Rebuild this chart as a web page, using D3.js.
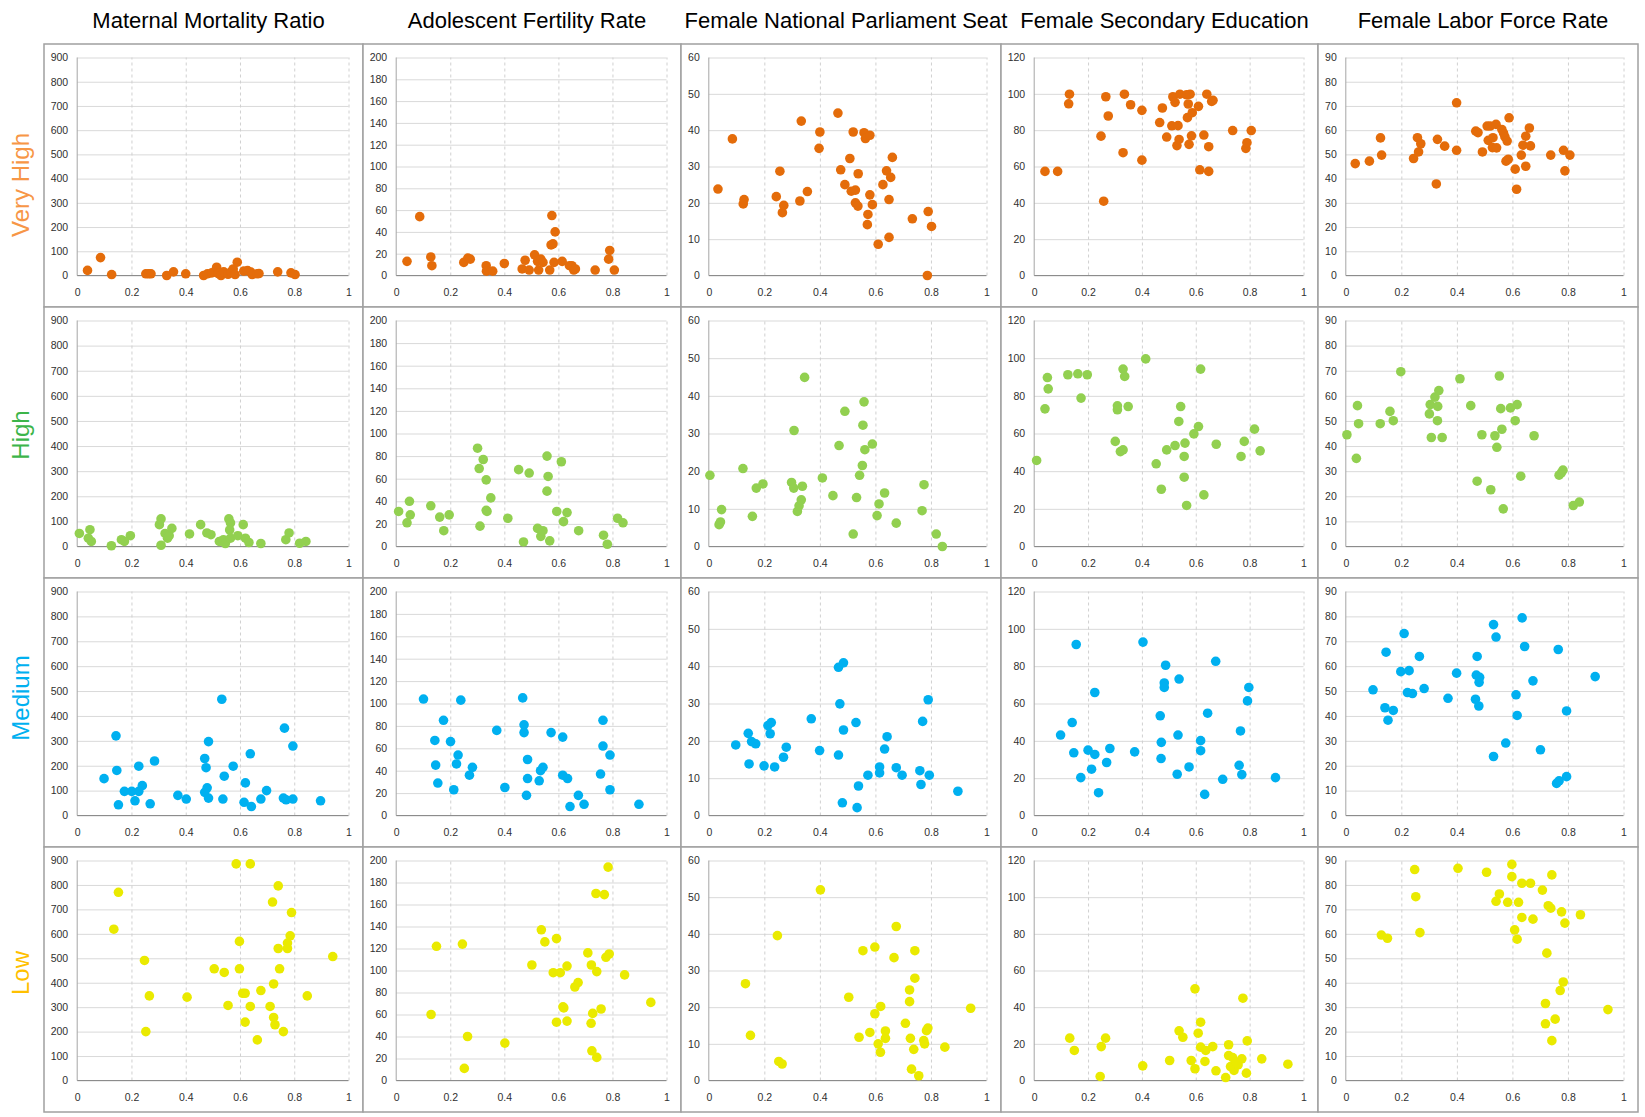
<!DOCTYPE html>
<html>
<head>
<meta charset="utf-8">
<script src="https://cdn.jsdelivr.net/npm/d3@7"></script>
<style>
  body { margin: 0; background: #fff; }
  svg { display: block; font-family: "Liberation Sans", Arial, sans-serif; }
</style>
</head>
<body>
<div id="chart"></div>
<script>
// column titles / row labels
const indicators = ['Maternal Mortality Ratio', 'Adolescent Fertility Rate', 'Female National Parliament Seat', 'Female Secondary Education', 'Female Labor Force Rate'];
const groups = ['Very High', 'High', 'Medium', 'Low'];
const yMaxes = [900, 200, 60, 120, 90];
const ySteps = [100, 20, 10, 20, 10];
const xTicks = [0, 0.2, 0.4, 0.6, 0.8, 1];

// Very High
const veryHighMMR = [[0.038,21],[0.086,74],[0.127,4],[0.253,7],[0.263,7],[0.272,7],[0.33,0],[0.355,15],[0.40,7],[0.466,0],[0.48,7],[0.496,11],[0.514,34],[0.52,8],[0.53,0],[0.54,15],[0.556,5],[0.567,15],[0.575,27],[0.582,4],[0.59,55],[0.614,18],[0.628,20],[0.64,14],[0.645,4],[0.663,7],[0.67,8],[0.739,15],[0.788,11],[0.803,4]];
const veryHighAFR = [[0.04,13],[0.087,54],[0.128,17],[0.132,9],[0.25,12],[0.265,16],[0.274,15],[0.333,9],[0.334,4],[0.357,4],[0.40,11],[0.466,6],[0.477,14],[0.492,5],[0.512,19],[0.523,13],[0.527,5],[0.535,15],[0.543,12],[0.568,5],[0.573,28],[0.58,29],[0.576,55],[0.588,40],[0.584,12],[0.614,13],[0.641,9],[0.65,9],[0.657,5],[0.663,6],[0.736,5],[0.786,15],[0.79,23],[0.807,5]];
const veryHighFNPS = [[0.033,23.8],[0.085,37.6],[0.124,19.7],[0.127,20.9],[0.243,21.7],[0.256,28.7],[0.265,17.3],[0.27,19.3],[0.328,20.5],[0.333,42.5],[0.355,23.1],[0.397,35],[0.40,39.5],[0.465,44.7],[0.475,29.1],[0.49,25],[0.508,32.2],[0.513,23.2],[0.52,39.5],[0.528,23.5],[0.528,20],[0.537,19.1],[0.538,28],[0.559,39.3],[0.564,37.7],[0.571,14],[0.573,16.8],[0.58,38.6],[0.58,22.2],[0.589,19.5],[0.61,8.6],[0.627,25],[0.64,28.8],[0.649,20.9],[0.649,10.5],[0.655,27],[0.661,32.5],[0.733,15.6],[0.787,0],[0.79,17.6],[0.802,13.5]];
const veryHighFSE = [[0.04,57.3],[0.087,57.3],[0.128,94.5],[0.131,99.8],[0.248,76.7],[0.258,40.9],[0.266,98.4],[0.275,87.8],[0.33,67.6],[0.335,99.8],[0.358,94],[0.40,63.5],[0.40,90.9],[0.466,84.2],[0.476,92.2],[0.492,76.2],[0.511,82.4],[0.515,98.4],[0.523,95.3],[0.53,71.5],[0.534,82.5],[0.538,74.9],[0.541,99.8],[0.566,99.5],[0.569,86.9],[0.572,94.4],[0.575,72.2],[0.579,99.8],[0.584,76.9],[0.587,89.6],[0.61,93.1],[0.615,58.2],[0.63,77.3],[0.641,99.8],[0.648,70.9],[0.648,57.3],[0.659,95.8],[0.664,96.4],[0.737,79.8],[0.786,70],[0.79,73.1],[0.806,79.8]];
const veryHighFLFR = [[0.034,46.2],[0.085,47.2],[0.125,56.8],[0.129,49.7],[0.244,48.3],[0.258,56.9],[0.262,51],[0.27,54.4],[0.326,37.8],[0.33,56.2],[0.356,53.4],[0.399,51.7],[0.399,71.3],[0.468,59.6],[0.476,59],[0.492,51],[0.509,61.7],[0.513,55.8],[0.52,61.7],[0.53,56.9],[0.528,52.8],[0.541,62.4],[0.543,52.7],[0.562,60.3],[0.568,58.8],[0.573,57.2],[0.577,47.2],[0.581,55.5],[0.585,48],[0.588,65.1],[0.61,43.9],[0.615,35.6],[0.632,49.7],[0.638,53.8],[0.648,57.5],[0.648,45.1],[0.661,60.9],[0.665,53.5],[0.738,49.7],[0.784,51.7],[0.789,43.2],[0.807,49.7]];

// High
const highMMR = [[0.008,52],[0.041,33],[0.047,67],[0.052,20],[0.126,3],[0.163,27],[0.174,20],[0.196,43],[0.303,87],[0.309,110],[0.309,5],[0.324,52],[0.333,33],[0.339,43],[0.349,72],[0.414,50],[0.455,87],[0.478,54],[0.493,47],[0.524,20],[0.539,27],[0.546,12],[0.559,110],[0.565,94],[0.562,66],[0.565,33],[0.592,43],[0.612,87],[0.62,33],[0.633,16],[0.677,12],[0.769,27],[0.781,54],[0.82,13],[0.843,20]];
const highAFR = [[0.009,31],[0.04,21],[0.049,40],[0.052,28],[0.128,36],[0.161,26],[0.176,14],[0.196,28],[0.301,87],[0.307,69],[0.31,18],[0.322,77],[0.333,59],[0.333,32],[0.336,31],[0.35,43],[0.413,25],[0.453,68],[0.471,4],[0.492,65],[0.523,16],[0.535,9],[0.543,14],[0.558,80],[0.562,62],[0.558,49],[0.568,5],[0.594,31],[0.611,75],[0.619,22],[0.632,30],[0.675,14],[0.767,10],[0.781,2],[0.819,25],[0.839,21]];
const highFNPS = [[0.004,18.9],[0.037,5.8],[0.042,6.5],[0.046,9.8],[0.123,20.7],[0.157,8],[0.171,15.5],[0.195,16.6],[0.298,17],[0.306,15.5],[0.307,30.8],[0.319,9.3],[0.325,10.8],[0.333,12.4],[0.337,16],[0.345,44.9],[0.409,18.2],[0.447,13.5],[0.469,26.8],[0.49,35.9],[0.52,3.3],[0.532,13],[0.543,18.9],[0.553,21.5],[0.555,32.2],[0.559,38.4],[0.562,25.7],[0.589,27.2],[0.606,8.2],[0.613,11.3],[0.633,14.2],[0.675,6.2],[0.768,9.5],[0.775,16.4],[0.819,3.3],[0.841,0]];
const highFSE = [[0.009,45.7],[0.04,73.1],[0.049,89.7],[0.052,83.7],[0.125,91.2],[0.162,91.7],[0.174,78.8],[0.197,91.2],[0.301,55.8],[0.309,74.7],[0.309,72.6],[0.32,50.4],[0.33,51.3],[0.33,94.2],[0.336,90.3],[0.349,74.3],[0.414,99.6],[0.453,43.9],[0.472,30.4],[0.492,51.3],[0.523,53.6],[0.537,66.4],[0.544,74.3],[0.557,47.8],[0.56,54.9],[0.557,36.8],[0.566,21.8],[0.593,59.8],[0.61,63.7],[0.618,94.2],[0.63,27.4],[0.676,54.3],[0.768,47.8],[0.78,55.8],[0.818,62.3],[0.839,50.8]];
const highFLFR = [[0.004,44.5],[0.038,35.1],[0.042,56.1],[0.046,48.9],[0.124,48.9],[0.159,53.8],[0.171,50.1],[0.198,69.6],[0.301,52.8],[0.304,56.5],[0.308,43.4],[0.321,59.5],[0.331,55.8],[0.33,50.1],[0.335,62.1],[0.347,43.4],[0.411,66.8],[0.45,56.1],[0.473,26],[0.49,44.5],[0.522,22.6],[0.537,44.1],[0.544,39.5],[0.553,67.9],[0.558,54.9],[0.562,46.7],[0.567,15],[0.593,55.2],[0.61,50.1],[0.617,56.5],[0.63,28],[0.678,44.1],[0.768,28.4],[0.776,29.3],[0.782,30.4],[0.819,16.3],[0.841,17.7]];

// Medium
const mediumMMR = [[0.099,148],[0.143,320],[0.146,181],[0.152,43],[0.174,97],[0.201,97],[0.213,59],[0.227,198],[0.227,97],[0.24,120],[0.269,47],[0.285,219],[0.371,81],[0.402,66],[0.47,229],[0.475,192],[0.47,93],[0.479,111],[0.484,297],[0.484,70],[0.533,467],[0.537,66],[0.542,158],[0.575,198],[0.615,53],[0.62,131],[0.638,248],[0.642,36],[0.677,66],[0.698,100],[0.76,70],[0.764,351],[0.77,63],[0.795,279],[0.795,66],[0.897,59]];
const mediumAFR = [[0.101,104],[0.143,67],[0.146,45],[0.154,29],[0.175,85],[0.201,66],[0.213,23],[0.223,46],[0.229,54],[0.239,103],[0.271,36],[0.282,43],[0.372,76],[0.402,25],[0.468,105],[0.473,81],[0.473,74],[0.482,18],[0.486,50],[0.486,33],[0.529,31],[0.534,40],[0.543,43],[0.573,74],[0.616,70],[0.616,36],[0.634,33],[0.643,8],[0.674,18],[0.695,10],[0.756,37],[0.765,85],[0.765,62],[0.791,54],[0.791,23],[0.898,10]];
const mediumFNPS = [[0.097,18.9],[0.142,22],[0.145,13.8],[0.154,19.8],[0.169,19.2],[0.199,13.3],[0.213,24.1],[0.221,21.9],[0.225,24.9],[0.237,13],[0.269,15.6],[0.279,18.3],[0.369,25.9],[0.399,17.4],[0.467,39.7],[0.467,16.2],[0.472,29.9],[0.481,3.4],[0.485,40.9],[0.485,22.9],[0.53,24.9],[0.534,2.1],[0.539,7.9],[0.573,10.8],[0.615,13],[0.615,11.4],[0.633,17.8],[0.642,21.1],[0.675,12.8],[0.696,10.8],[0.76,12],[0.764,8.3],[0.77,25.2],[0.79,31],[0.794,10.8],[0.897,6.5]];
const mediumFSE = [[0.098,43.1],[0.141,49.8],[0.147,33.6],[0.156,91.6],[0.173,20.3],[0.2,35],[0.213,24.8],[0.225,32.7],[0.225,65.9],[0.239,12.2],[0.269,28.4],[0.281,35.9],[0.373,34.1],[0.404,92.9],[0.468,53.4],[0.472,39.2],[0.471,30.5],[0.483,71],[0.483,68.6],[0.488,80.5],[0.531,22.1],[0.534,43.1],[0.538,73.1],[0.575,26],[0.618,40.1],[0.618,34.7],[0.633,11.3],[0.644,54.8],[0.674,82.6],[0.7,19.4],[0.761,26.9],[0.766,45.3],[0.771,21.9],[0.792,61.4],[0.797,68.6],[0.896,20.3]];
const mediumFLFR = [[0.098,50.5],[0.141,43.3],[0.145,65.6],[0.152,38.3],[0.171,42.2],[0.198,57.8],[0.21,73.1],[0.222,49.4],[0.228,58.2],[0.24,49],[0.265,63.9],[0.282,51],[0.368,47.1],[0.399,57.2],[0.467,46.7],[0.47,56.4],[0.473,63.9],[0.479,44],[0.482,55.5],[0.48,53.5],[0.532,76.7],[0.532,23.7],[0.541,71.7],[0.576,29.1],[0.613,48.5],[0.617,40.2],[0.635,79.4],[0.644,67.9],[0.674,54.1],[0.701,26.4],[0.765,66.7],[0.759,12.9],[0.768,13.9],[0.795,15.6],[0.795,42],[0.898,55.8]];

// Low
const lowMMR = [[0.135,619],[0.152,770],[0.248,491],[0.253,200],[0.266,346],[0.405,341],[0.505,457],[0.542,442],[0.556,307],[0.586,886],[0.598,569],[0.598,457],[0.61,357],[0.619,357],[0.619,239],[0.638,886],[0.638,303],[0.664,166],[0.677,368],[0.711,303],[0.72,730],[0.724,395],[0.724,258],[0.729,228],[0.741,796],[0.741,540],[0.746,457],[0.76,200],[0.775,540],[0.775,562],[0.785,592],[0.79,687],[0.848,346],[0.942,507]];
const lowAFR = [[0.129,60],[0.149,122],[0.245,124],[0.252,11],[0.264,40],[0.402,34],[0.502,105],[0.537,137],[0.55,126],[0.581,98],[0.593,129],[0.593,53],[0.607,98],[0.617,67],[0.62,66],[0.632,104],[0.632,54],[0.661,85],[0.673,89],[0.709,116],[0.721,52],[0.722,105],[0.724,27],[0.727,61],[0.739,170],[0.742,99],[0.742,21],[0.758,65],[0.77,169],[0.776,112],[0.784,194],[0.788,115],[0.845,96],[0.942,71]];
const lowFNPS = [[0.132,26.4],[0.15,12.3],[0.247,39.5],[0.252,5.2],[0.264,4.5],[0.402,52],[0.504,22.7],[0.541,11.8],[0.555,35.4],[0.58,13.1],[0.598,36.4],[0.598,18.2],[0.61,10],[0.618,7.7],[0.619,20.2],[0.636,13.5],[0.636,11.5],[0.667,33.5],[0.675,42],[0.708,15.6],[0.723,24.7],[0.723,21.5],[0.726,11.5],[0.73,3.1],[0.738,8.5],[0.742,35.4],[0.742,27.9],[0.756,1.3],[0.774,10.9],[0.777,10],[0.784,13.6],[0.789,14.3],[0.85,9.1],[0.943,19.7]];
const lowFSE = [[0.132,23.1],[0.149,16.4],[0.245,2.2],[0.249,18.5],[0.265,23.1],[0.403,8],[0.503,10.9],[0.538,27.1],[0.552,23.6],[0.583,10.9],[0.597,50],[0.597,6.4],[0.609,25.8],[0.618,31.8],[0.618,18.2],[0.634,10.4],[0.637,16.4],[0.663,18.5],[0.675,5.3],[0.711,1.6],[0.722,19.5],[0.722,13.6],[0.729,7.6],[0.737,12.5],[0.742,5.5],[0.748,10],[0.757,8.5],[0.771,11.8],[0.775,44.9],[0.788,4],[0.791,21.6],[0.845,11.8],[0.942,8.9]];
const lowFLFR = [[0.128,59.5],[0.15,58.2],[0.248,86.3],[0.252,75.2],[0.267,60.5],[0.404,86.8],[0.507,85.2],[0.541,73.3],[0.553,76.3],[0.583,72.9],[0.598,88.4],[0.598,83.4],[0.608,61.6],[0.617,57.8],[0.622,72.9],[0.634,80.7],[0.634,66.7],[0.665,80.7],[0.674,66],[0.708,77.9],[0.719,31.5],[0.719,23.2],[0.724,52.1],[0.729,71.5],[0.738,70.5],[0.742,84.1],[0.742,16.3],[0.754,25.1],[0.772,36.8],[0.777,69],[0.783,40.3],[0.789,64.4],[0.845,67.8],[0.944,29]];

const panels = [
  [veryHighMMR, veryHighAFR, veryHighFNPS, veryHighFSE, veryHighFLFR],
  [highMMR, highAFR, highFNPS, highFSE, highFLFR],
  [mediumMMR, mediumAFR, mediumFNPS, mediumFSE, mediumFLFR],
  [lowMMR, lowAFR, lowFNPS, lowFSE, lowFLFR]
];

const dotColors = ['#e46c0a', '#92d050', '#00b0f0', '#eaea00'];
const labelColors = ['#f79646', '#3cb54a', '#00b0f0', '#ffc000'];

// layout
const width = 1645, height = 1117;
const colEdges = [44, 363, 681, 1001, 1318, 1638];
const rowEdges = [44, 307, 578, 847, 1112];
const rowLabelY = [185, 435, 698, 973];

const svg = d3.select('#chart').append('svg')
  .attr('width', width)
  .attr('height', height);

// column titles
svg.selectAll('text.title')
  .data(indicators)
  .join('text')
  .attr('class', 'title')
  .attr('x', (d, i) => (colEdges[i] + colEdges[i + 1]) / 2 + 5)
  .attr('y', 28)
  .attr('text-anchor', 'middle')
  .style('font-size', '22px')
  .style('fill', '#000')
  .text(d => d);

// row labels
groups.forEach((g, r) => {
  svg.append('text')
    .attr('transform', `translate(20, ${rowLabelY[r]}) rotate(-90)`)
    .attr('text-anchor', 'middle')
    .attr('dominant-baseline', 'central')
    .style('font-size', '24px')
    .style('fill', labelColors[r])
    .text(g);
});

panels.forEach((row, r) => {
  row.forEach((points, c) => {
    const x0 = colEdges[c], x1 = colEdges[c + 1];
    const y0 = rowEdges[r], y1 = rowEdges[r + 1];
    const maxChars = String(yMaxes[c]).length;
    const area = {
      left: x0 + 17 + maxChars * 5.4,
      right: x1 - 14.5,
      top: y0 + 13.5,
      bottom: y1 - 31.5
    };

    const g = svg.append('g');

    g.append('rect')
      .attr('x', x0).attr('y', y0)
      .attr('width', x1 - x0).attr('height', y1 - y0)
      .attr('fill', '#fff')
      .attr('stroke', '#a0a0a0')
      .attr('stroke-width', 1.5);

    const xScale = d3.scaleLinear().domain([0, 1]).range([area.left, area.right]);
    const yScale = d3.scaleLinear().domain([0, yMaxes[c]]).range([area.bottom, area.top]);
    const yTicks = d3.range(0, yMaxes[c] + ySteps[c] / 2, ySteps[c]);

    // horizontal gridlines
    g.append('g')
      .attr('transform', `translate(${area.left}, 0)`)
      .call(d3.axisLeft(yScale).tickValues(yTicks).tickFormat('').tickSize(-(area.right - area.left)))
      .call(s => s.select('.domain').remove())
      .selectAll('line')
      .attr('stroke', '#d9d9d9');

    // vertical dashed gridlines
    g.append('g')
      .attr('transform', `translate(0, ${area.bottom})`)
      .call(d3.axisBottom(xScale).tickValues(xTicks.slice(1)).tickFormat('').tickSize(-(area.bottom - area.top)))
      .call(s => s.select('.domain').remove())
      .selectAll('line')
      .attr('stroke', '#d0d0d0')
      .attr('stroke-dasharray', '3,3');

    // y labels
    g.append('g')
      .attr('transform', `translate(${area.left}, 0)`)
      .call(d3.axisLeft(yScale).tickValues(yTicks).tickSize(0).tickPadding(9).tickFormat(d3.format('d')))
      .call(s => s.select('.domain').remove())
      .selectAll('text')
      .style('font-size', '10.5px')
      .style('font-family', '"Liberation Sans", Arial, sans-serif')
      .attr('fill', '#303030');

    // x labels
    g.append('g')
      .attr('transform', `translate(0, ${area.bottom})`)
      .call(d3.axisBottom(xScale).tickValues(xTicks).tickSize(0).tickPadding(13).tickFormat(d => String(d)))
      .call(s => s.select('.domain').remove())
      .selectAll('text')
      .style('font-size', '10.5px')
      .style('font-family', '"Liberation Sans", Arial, sans-serif')
      .attr('fill', '#303030');

    // axis lines
    g.append('line')
      .attr('x1', area.left).attr('x2', area.left)
      .attr('y1', area.top).attr('y2', area.bottom)
      .attr('stroke', '#a6a6a6');
    g.append('line')
      .attr('x1', area.left).attr('x2', area.right)
      .attr('y1', area.bottom).attr('y2', area.bottom)
      .attr('stroke', '#8c8c8c');

    g.append('g')
      .selectAll('circle')
      .data(points)
      .join('circle')
      .attr('cx', d => xScale(d[0]))
      .attr('cy', d => yScale(d[1]))
      .attr('r', 4.8)
      .attr('fill', dotColors[r]);
  });
});
</script>
</body>
</html>
